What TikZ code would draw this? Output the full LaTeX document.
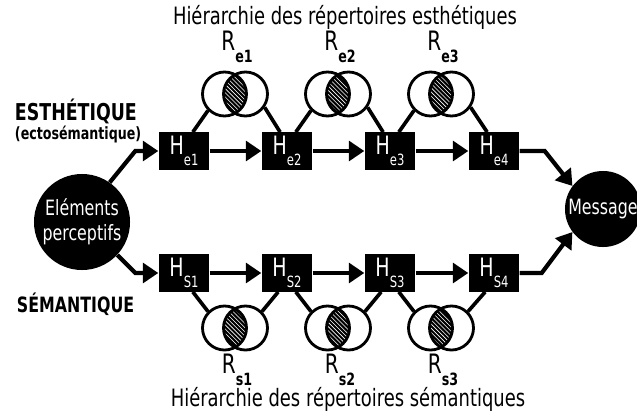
\documentclass[tikz,border=0pt]{standalone}
\usepackage{fontspec}
\setmainfont{DejaVu Sans}[FakeStretch=0.75]
\usetikzlibrary{arrows.meta,calc,patterns}
\newcommand{\lowidx}[2][9]{\raisebox{-0.45em}{\fontsize{#1}{#1}\selectfont #2}}
\begin{document}
\begin{tikzpicture}[x=0.025cm,y=-0.025cm,
    hbox/.style={fill=black,text=white,minimum width=1.27cm,minimum height=0.93cm,
      inner sep=0pt,font=\fontsize{18}{18}\selectfont},
    ball/.style={circle,fill=black,text=white,inner sep=0pt,align=center},
    venn/.style={circle,draw,line width=2pt,minimum size=1.1cm,inner sep=0pt},
    arr/.style={line width=3pt,-{Triangle[length=11pt,width=14pt]}},
    link/.style={line width=2.6pt},
    lens/.style={fill=black},
    hatch/.style={pattern=north west lines,pattern color=white},
    rlbl/.style={font=\fontsize{19}{19}\selectfont},
    side/.style={anchor=west,font=\bfseries\fontsize{16.5}{16.5}\selectfont},
    title/.style={font=\fontsize{17}{17}\selectfont}]
  \useasboundingbox (0,0) rectangle (637,416);

  % titles and side labels
  \node[title] (ttop) at (345,17) {Hiérarchie des répertoires esthétiques};
  \node[title] (tbot) at (348,399) {Hiérarchie des répertoires sémantiques};
  \node[side] (esth) at (10,111) {ESTHÉTIQUE};
  \node[side,font=\bfseries\fontsize{12}{12}\selectfont] (ecto) at (10,135) {(ectosémantique)};
  \node[side,font=\bfseries\fontsize{15}{15}\selectfont] (sema) at (12,304) {SÉMANTIQUE};

  % end points
  \node[ball,minimum size=2.4cm,font=\fontsize{15}{18}\selectfont] (elem) at (82,222) {Eléments\\perceptifs};
  \node[ball,minimum size=1.9cm,font=\fontsize{15}{15}\selectfont] (msg) at (603,209) {Message};

  % boxes
  \foreach \i/\x in {1/184,2/287,3/390,4/494} {
    \node[hbox] (He\i) at (\x,151) {H\lowidx[11]{e\i}};
    \node[hbox] (Hs\i) at (\x,273) {H\lowidx[11]{S\i}};
  }

  % repertoires
  \foreach \i/\x in {1/235,2/338,3/441} {
    \coordinate (ec\i) at (\x,94);
    \coordinate (sc\i) at (\x,328);
    \begin{scope}
      \clip ($(ec\i)+(-10.5,0)$) circle (22);
      \fill[lens] ($(ec\i)+(10.5,0)$) circle (22);
      \fill[hatch] ($(ec\i)+(10.5,0)$) circle (22);
    \end{scope}
    \begin{scope}
      \clip ($(sc\i)+(-10.5,0)$) circle (22);
      \fill[lens] ($(sc\i)+(10.5,0)$) circle (22);
      \fill[hatch] ($(sc\i)+(10.5,0)$) circle (22);
    \end{scope}
    \node[venn] (eL\i) at ($(ec\i)+(-10.5,0)$) {};
    \node[venn] (eR\i) at ($(ec\i)+(10.5,0)$) {};
    \node[venn] (sL\i) at ($(sc\i)+(-10.5,0)$) {};
    \node[venn] (sR\i) at ($(sc\i)+(10.5,0)$) {};
    \node[rlbl] (Re\i) at ($(ec\i)+(2,-47)$) {R\lowidx[12]{\bfseries e\i}};
    \node[rlbl] (Rs\i) at ($(sc\i)+(2,42)$) {R\lowidx[12]{\bfseries s\i}};
  }

  % links to the repertoires
  \foreach \i [evaluate=\i as \j using int(\i+1)] in {1,2,3} {
    \draw[link] (He\i.65) -- (eL\i.225);
    \draw[link] (eR\i.-35) -- (He\j.110);
    \draw[link] (Hs\i.-65) -- (sL\i.135);
    \draw[link] (sR\i.45) -- (Hs\j.-115);
  }

  % chains
  \draw[arr] (elem.55) -- ($(He1.west)+(-23,0)$) -- (He1.west);
  \draw[arr] (elem.-43) -- ($(Hs1.west)+(-23,0)$) -- (Hs1.west);
  \foreach \i [evaluate=\i as \j using int(\i+1)] in {1,2,3} {
    \draw[arr] (He\i) -- (He\j);
    \draw[arr] (Hs\i) -- (Hs\j);
  }
  \draw[arr] (He4.east) -- ($(He4.east)+(25,0)$) -- (msg.143);
  \draw[arr] (Hs4.east) -- ($(Hs4.east)+(22,0)$) -- (msg.217);
\end{tikzpicture}
\end{document}
